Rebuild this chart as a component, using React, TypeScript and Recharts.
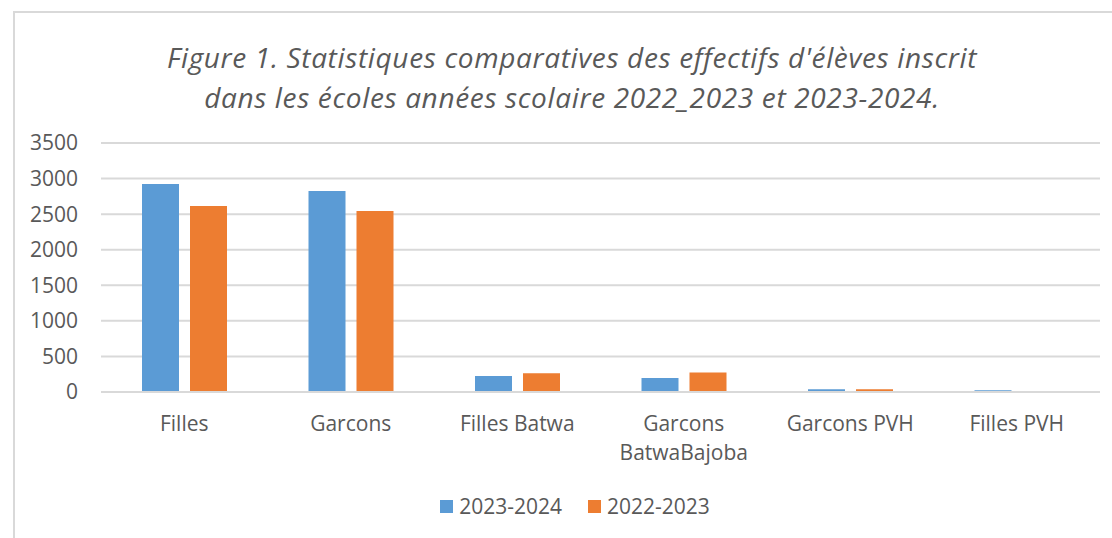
import React from "react";
import {
  BarChart,
  Bar,
  XAxis,
  YAxis,
  CartesianGrid,
  Legend,
} from "recharts";

const CATEGORIES = [
  "Filles",
  "Garcons",
  "Filles Batwa",
  "Garcons BatwaBajoba",
  "Garcons PVH",
  "Filles PVH",
];
const Y_2023_2024 = [2925, 2825, 225, 197, 40, 25];
const Y_2022_2023 = [2615, 2545, 265, 275, 40, 12];
const Y_TICKS = [0, 500, 1000, 1500, 2000, 2500, 3000, 3500];
const SERIES_ORDER = ["2023-2024", "2022-2023"];

const TITLE_LINES = [
  "Figure 1. Statistiques comparatives des effectifs d'élèves inscrit",
  "dans les écoles années scolaire 2022_2023 et 2023-2024.",
];

const BLUE = "#5B9BD5";
const ORANGE = "#ED7D31";
const TEXT = "#595959";
const GRID = "#d9d9d9";
const FONT = "'Open Sans', sans-serif";
const LABEL_SIZE = 21;

const data = CATEGORIES.map((name, i) => ({
  name,
  a: Y_2023_2024[i],
  b: Y_2022_2023[i],
}));

// long labels wrap onto two lines, like the original chart
const wrapLabel = (s: string) => {
  if (s.length <= 14) return [s];
  const i = s.indexOf(" ");
  return i < 0 ? [s] : [s.slice(0, i), s.slice(i + 1)];
};

const CategoryTick = ({ x, y, payload }: any) => (
  <text
    x={x}
    y={y + 31}
    textAnchor="middle"
    fill={TEXT}
    fontSize={LABEL_SIZE}
    fontFamily={FONT}
  >
    {wrapLabel(payload.value).map((line, i) => (
      <tspan key={i} x={x} dy={i === 0 ? 0 : 29}>
        {line}
      </tspan>
    ))}
  </text>
);

const LegendBox = ({ payload }: any) => {
  // keep series order (recharts sorts legend items by name)
  const items = SERIES_ORDER.map((n) => payload.find((p: any) => p.value === n)).filter(Boolean);
  return (
    <div
      style={{
        display: "flex",
        justifyContent: "center",
        gap: 26,
        paddingLeft: 50,
        fontFamily: FONT,
        fontSize: LABEL_SIZE,
        color: TEXT,
      }}
    >
      {items.map((p: any) => (
        <div key={p.value} style={{ display: "flex", alignItems: "center", gap: 6 }}>
          <span style={{ width: 13, height: 13, background: p.color, display: "inline-block" }} />
          <span>{p.value}</span>
        </div>
      ))}
    </div>
  );
};

export default function App() {
  return (
    <div
      style={{
        position: "fixed",
        left: 0,
        top: 0,
        width: 1112,
        height: 538,
        background: "#fff",
        overflow: "hidden",
      }}
    >
      <div
        style={{
          position: "absolute",
          left: 13,
          top: 11,
          width: 1120,
          height: 560,
          border: `2px solid ${GRID}`,
          boxSizing: "border-box",
        }}
      />
      <div
        style={{
          position: "absolute",
          left: 0,
          top: 37,
          width: 1144,
          textAlign: "center",
          fontFamily: FONT,
          fontStyle: "italic",
          fontWeight: 400,
          fontSize: 28,
          letterSpacing: 0.65,
          lineHeight: "40px",
          color: TEXT,
        }}
      >
        {TITLE_LINES.map((l) => (
          <div key={l}>{l}</div>
        ))}
      </div>
      <div style={{ position: "absolute", left: 0, top: 0 }}>
        <BarChart
          width={1112}
          height={538}
          data={data}
          margin={{ top: 143, right: 12, left: 0, bottom: 14 }}
          barGap={11}
          barCategoryGap={41}
        >
          <CartesianGrid vertical={false} stroke={GRID} strokeWidth={2} />
          <XAxis
            dataKey="name"
            axisLine={{ stroke: GRID, strokeWidth: 2 }}
            tickLine={false}
            interval={0}
            height={100}
            tick={<CategoryTick />}
          />
          <YAxis
            width={101}
            domain={[0, 3500]}
            ticks={Y_TICKS}
            axisLine={false}
            tickLine={false}
            tickMargin={17}
            tick={{ fill: TEXT, fontSize: LABEL_SIZE, fontFamily: FONT }}
          />
          <Legend verticalAlign="bottom" height={32} content={<LegendBox />} />
          <Bar dataKey="a" name="2023-2024" fill={BLUE} isAnimationActive={false} />
          <Bar dataKey="b" name="2022-2023" fill={ORANGE} isAnimationActive={false} />
        </BarChart>
      </div>
    </div>
  );
}
